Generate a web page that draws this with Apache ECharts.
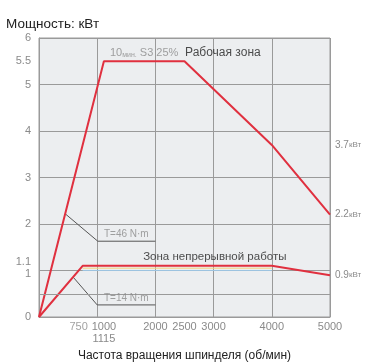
<!DOCTYPE html>
<html>
<head>
<meta charset="utf-8">
<script src="https://cdn.jsdelivr.net/npm/echarts@6/dist/echarts.min.js"></script>
<style>
  html, body { margin: 0; padding: 0; background: #fff; }
  #chart { width: 365px; height: 363px; }
</style>
</head>
<body>
<div id="chart"></div>
<script>
// рабочая зона (10 мин, S3 25%)
const workX = [0, 1115, 2500, 4000, 5000];
const workY = [0, 5.5, 5.5, 3.7, 2.2];
// зона непрерывной работы
const contX = [0, 750, 4000, 5000];
const contY = [0, 1.1, 1.1, 0.9];
// бледные вспомогательные линии
const blueX = [750, 4000];
const blueY = [1.0, 1.0];
const yellowX = [750, 4000];
const yellowY = [1.05, 1.05];

// 0 без подписи; 1000 и 1115 подписаны одной двухстрочной меткой, 750 — отдельно
const xTicks = [0, 1115, 2000, 2500, 3000, 4000, 5000];
const xExtraTick = 750;
const yTicks = [0, 1, 1.1, 2, 3, 4, 5, 5.5, 6];
const rightTicks = [0.9, 2.2, 3.7];

// выноски моментов
const t46X = [450, 1010, 2000];
const t46Y = [2.22, 1.63, 1.63];
const t14X = [585, 1000, 2000];
const t14Y = [0.86, 0.26, 0.26];

const FONT = "'Liberation Sans Narrow', 'Liberation Sans', Arial, sans-serif";
const GRAY = '#8a8a8a';
const RED = '#e0303f';

const zip = (xs, ys) => xs.map((x, i) => [x, ys[i]]);

const myChart = echarts.init(document.getElementById('chart'));

const xLabel = v => {
  if (v === 0) return '';
  if (v === 1115) return '1000\n1115';
  return String(v);
};

const option = {
  animation: false,
  textStyle: { fontFamily: FONT },
  title: {
    text: 'Мощность: кВт',
    left: 1,
    top: 12,
    textStyle: { fontSize: 13.5, fontWeight: 'normal', color: '#222', fontFamily: FONT }
  },
  grid: {
    left: 39, top: 38, right: 35, bottom: 46,
    outerBoundsMode: 'none',
    show: true,
    backgroundColor: '#eceef0',
    borderColor: '#9a9a9a',
    borderWidth: 1
  },
  xAxis: {
    type: 'value',
    min: 0, max: 5000, interval: 1000,
    name: 'Частота вращения шпинделя (об/мин)',
    nameLocation: 'middle',
    nameGap: 32,
    nameTextStyle: { fontSize: 12, color: '#222', fontFamily: FONT },
    axisLine: { show: true, lineStyle: { color: '#9a9a9a' } },
    axisTick: { show: false },
    splitLine: { show: true, lineStyle: { color: '#9a9a9a', width: 1 } },
    axisLabel: {
      customValues: xTicks,
      hideOverlap: false,
      showMinLabel: true,
      showMaxLabel: true,
      color: GRAY, fontSize: 11, margin: 4, fontFamily: FONT,
      lineHeight: 12,
      formatter: xLabel
    }
  },
  yAxis: [{
    type: 'value',
    min: 0, max: 6, interval: 1,
    axisLine: { show: true, lineStyle: { color: '#9a9a9a' } },
    axisTick: { show: false },
    splitLine: { show: true, lineStyle: { color: '#9a9a9a', width: 1 } },
    axisLabel: {
      customValues: yTicks,
      hideOverlap: false,
      showMinLabel: true,
      showMaxLabel: true,
      color: GRAY, fontSize: 11, margin: 8, fontFamily: FONT,
      formatter: v => (v === 1.1 ? '{up|1.1}' : v === 1 ? '{dn|1}' : String(v)),
      rich: {
        up: { color: GRAY, fontSize: 11, padding: [0, 0, 8, 0], fontFamily: FONT },
        dn: { color: GRAY, fontSize: 11, padding: [6, 0, 0, 0], fontFamily: FONT }
      }
    }
  }, {
    type: 'value',
    position: 'right',
    min: 0, max: 6,
    axisLine: { show: false },
    axisTick: { show: false },
    splitLine: { show: false },
    axisLabel: {
      customValues: rightTicks,
      showMinLabel: true,
      showMaxLabel: true,
      margin: 5,
      formatter: v => '{v|' + v + '}{u|кВт}',
      rich: {
        v: { color: GRAY, fontSize: 10, fontFamily: FONT },
        u: { color: GRAY, fontSize: 8, fontFamily: FONT }
      }
    }
  }],
  series: [
    {
      type: 'line', data: zip(yellowX, yellowY), symbol: 'none', silent: true,
      lineStyle: { color: '#f3d27a', width: 1 }, z: 2
    },
    {
      type: 'line', data: zip(blueX, blueY), symbol: 'none', silent: true,
      lineStyle: { color: '#9cc3e0', width: 1 }, z: 2,
      markLine: {
        silent: true, symbol: 'none', label: { show: false },
        lineStyle: { color: '#9a9a9a', type: 'solid', width: 1 },
        data: [{ yAxis: 0.5 }]
      }
    },
    {
      name: 'Рабочая зона', type: 'line', data: zip(workX, workY), symbol: 'none',
      lineStyle: { color: RED, width: 2 }, z: 4
    },
    {
      name: 'Зона непрерывной работы', type: 'line', data: zip(contX, contY), symbol: 'none',
      lineStyle: { color: RED, width: 2 }, z: 4
    },
    {
      type: 'line', data: zip(t46X, t46Y), symbol: 'none', silent: true,
      lineStyle: { color: '#555', width: 1 }, z: 3
    },
    {
      type: 'line', data: zip(t14X, t14Y), symbol: 'none', silent: true,
      lineStyle: { color: '#555', width: 1 }, z: 3
    },
    {
      // подписи
      type: 'scatter', symbolSize: 0, silent: true, z: 5,
      data: [
        {
          value: [xExtraTick, 0],
          label: {
            show: true, position: 'bottom', distance: 4, offset: [-4, 0],
            formatter: String(xExtraTick), color: GRAY, fontSize: 11, fontFamily: FONT
          }
        },
        {
          value: [1220, 5.68],
          label: {
            show: true, position: 'right', distance: 0,
            formatter: '{g|10}{s|мин.}{g| S3 25%}  {b|Рабочая зона}',
            rich: {
              g: { color: GRAY, fontSize: 11, fontFamily: FONT },
              s: { color: GRAY, fontSize: 7, fontFamily: FONT, verticalAlign: 'bottom' },
              b: { color: '#222', fontSize: 12, fontFamily: FONT }
            }
          }
        },
        {
          value: [1790, 1.29],
          label: {
            show: true, position: 'right', distance: 0,
            formatter: 'Зона непрерывной работы',
            color: '#222', fontSize: 11.5, fontFamily: FONT
          }
        },
        {
          value: [1500, 1.63],
          label: {
            show: true, position: 'top', distance: 2,
            formatter: 'T=46 N·m', color: GRAY, fontSize: 10, fontFamily: FONT
          }
        },
        {
          value: [1500, 0.26],
          label: {
            show: true, position: 'top', distance: 2,
            formatter: 'T=14 N·m', color: GRAY, fontSize: 10, fontFamily: FONT
          }
        }
      ]
    }
  ]
};

myChart.setOption(option);
</script>
</body>
</html>
